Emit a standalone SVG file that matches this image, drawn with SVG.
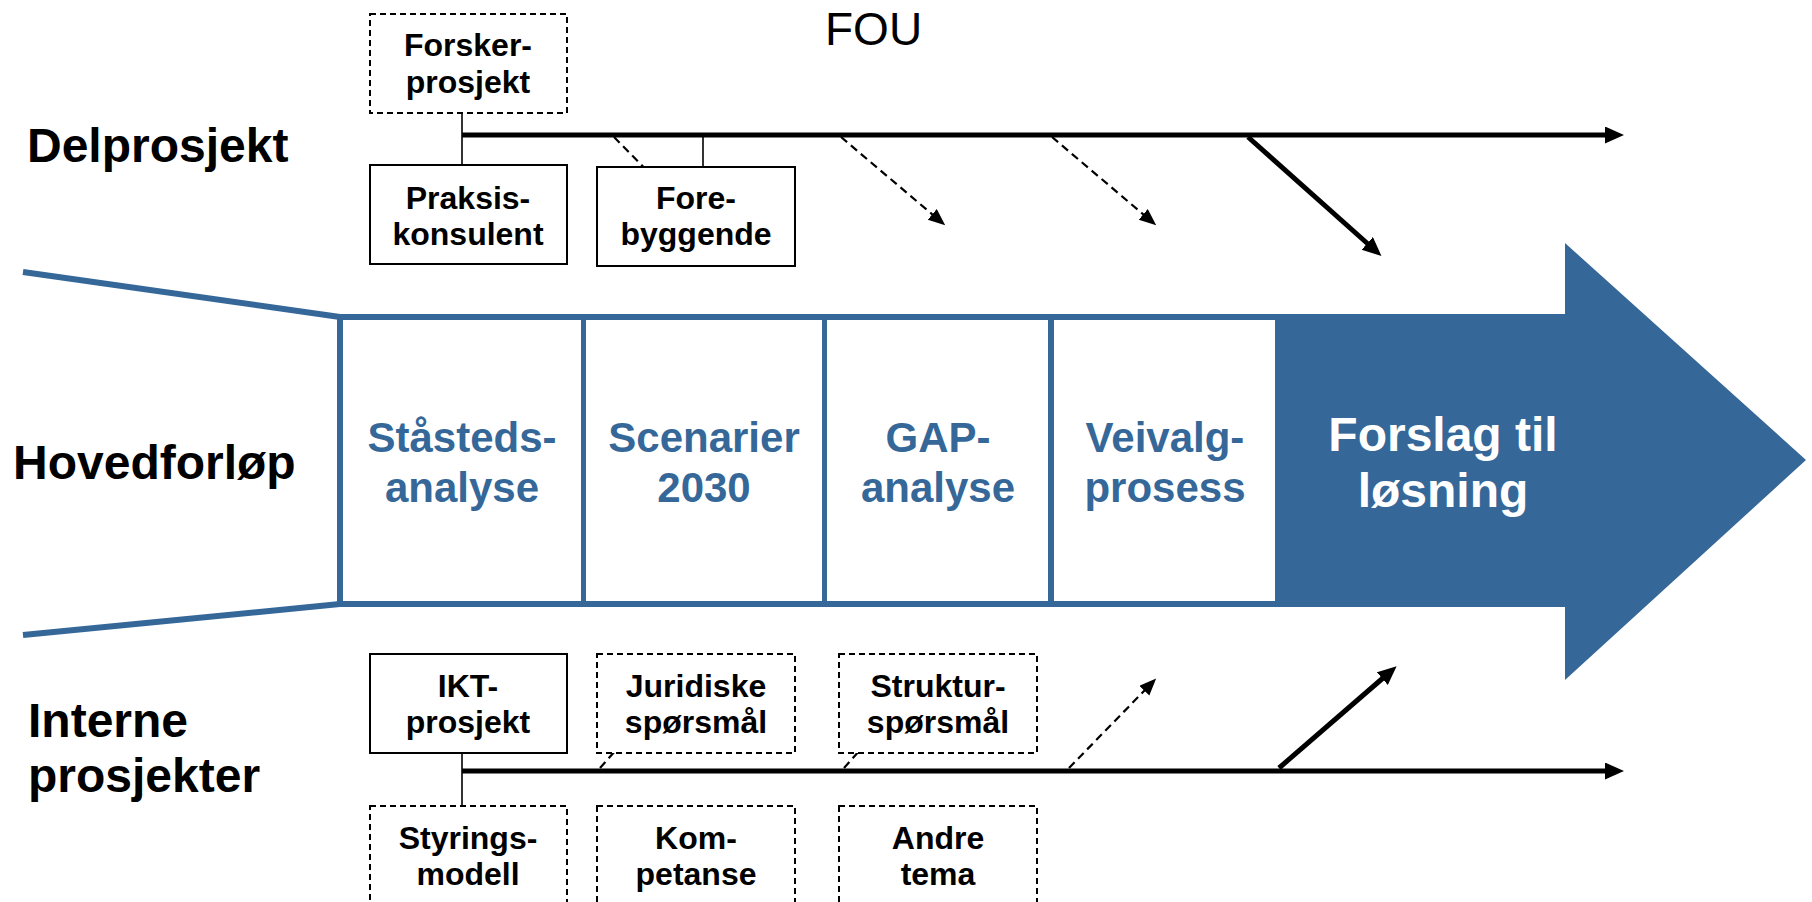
<svg xmlns="http://www.w3.org/2000/svg" width="1812" height="902" viewBox="0 0 1812 902">
<defs>
<style>
.lbl{font-family:"Liberation Sans",Arial,sans-serif;font-weight:bold;font-size:48px;fill:#000}
.bt{font-family:"Liberation Sans",Arial,sans-serif;font-weight:bold;font-size:32px;fill:#000;text-anchor:middle}
.ph{font-family:"Liberation Sans",Arial,sans-serif;font-weight:bold;font-size:42px;fill:#356899;text-anchor:middle}
.ph5{font-family:"Liberation Sans",Arial,sans-serif;font-weight:bold;font-size:48px;fill:#fff;text-anchor:middle}
.box{fill:#fff;stroke:#000;stroke-width:2}
.dbox{fill:#fff;stroke:#000;stroke-width:2;stroke-dasharray:6 4}
.axis{stroke:#000;stroke-width:5;fill:none}
.thin{stroke:#000;stroke-width:1.6;fill:none}
.dash{stroke:#000;stroke-width:2.2;fill:none;stroke-dasharray:8 5}
.sol{stroke:#000;stroke-width:5;fill:none}
</style>
<marker id="ah" markerUnits="userSpaceOnUse" markerWidth="20" markerHeight="18" refX="1" refY="8.5" orient="auto">
<path d="M0,0 L19,8.5 L0,17 z" fill="#000"/>
</marker>
<marker id="ahs" markerUnits="userSpaceOnUse" markerWidth="18" markerHeight="16" refX="1" refY="7" orient="auto">
<path d="M0,0 L17,7 L0,14 z" fill="#000"/>
</marker>
</defs>
<rect width="1812" height="902" fill="#fff"/>

<g id="labels">
<text class="lbl" x="27" y="162">Delprosjekt</text>
<text class="lbl" x="13" y="479">Hovedforløp</text>
<text class="lbl" x="28" y="737">Interne</text>
<text class="lbl" x="28" y="792">prosjekter</text>
<text x="825" y="45" font-family="Liberation Sans, Arial, sans-serif" font-size="46" fill="#000">FOU</text>
</g>

<g id="main-arrow">
<polygon points="337,314 1565,314 1565,243 1806,460 1565,680 1565,607 337,607" fill="#356899"/>
<line x1="23" y1="272" x2="340" y2="317" stroke="#356899" stroke-width="6"/>
<line x1="23" y1="635" x2="340" y2="604" stroke="#356899" stroke-width="6"/>
</g>
<g id="phase1"><rect x="343" y="320" width="238" height="281" fill="#fff"/>
<text class="ph" x="462" y="452">Ståsteds-</text><text class="ph" x="462" y="502">analyse</text></g>
<g id="phase2"><rect x="586" y="320" width="236" height="281" fill="#fff"/>
<text class="ph" x="704" y="452">Scenarier</text><text class="ph" x="704" y="502">2030</text></g>
<g id="phase3"><rect x="827" y="320" width="221" height="281" fill="#fff"/>
<text class="ph" x="938" y="452">GAP-</text><text class="ph" x="938" y="502">analyse</text></g>
<g id="phase4"><rect x="1054" y="320" width="221" height="281" fill="#fff"/>
<text class="ph" x="1165" y="452">Veivalg-</text><text class="ph" x="1165" y="502">prosess</text></g>
<g id="phase5">
<text class="ph5" x="1443" y="451">Forslag til</text>
<text class="ph5" x="1443" y="507">løsning</text></g>

<g id="connectors">
<line class="axis" x1="462" y1="135" x2="1606" y2="135" marker-end="url(#ah)"/>
<line class="thin" x1="462" y1="113" x2="462" y2="165"/>
<line class="thin" x1="703" y1="135" x2="703" y2="167"/>
<line class="dash" x1="614" y1="137" x2="660" y2="184"/>
<line class="dash" x1="841" y1="137" x2="933" y2="215" marker-end="url(#ahs)"/>
<line class="dash" x1="1052" y1="137" x2="1144" y2="215" marker-end="url(#ahs)"/>
<line class="sol" x1="1248" y1="137" x2="1368" y2="244" marker-end="url(#ah)"/>

<line class="axis" x1="462" y1="771" x2="1606" y2="771" marker-end="url(#ah)"/>
<line class="thin" x1="462" y1="753" x2="462" y2="806"/>
<line class="dash" x1="600" y1="768" x2="625" y2="740"/>
<line class="dash" x1="844" y1="768" x2="869" y2="740"/>
<line class="dash" x1="1069" y1="768" x2="1145" y2="690" marker-end="url(#ahs)"/>
<line class="sol" x1="1279" y1="768" x2="1383" y2="678" marker-end="url(#ah)"/>
</g>

<g id="forsker"><rect class="dbox" x="370" y="14" width="197" height="99"/>
<text class="bt" x="468" y="56">Forsker-</text><text class="bt" x="468" y="93">prosjekt</text></g>
<g id="praksis"><rect class="box" x="370" y="165" width="197" height="99"/>
<text class="bt" x="468" y="209">Praksis-</text><text class="bt" x="468" y="245">konsulent</text></g>
<g id="forebyggende"><rect class="box" x="597" y="167" width="198" height="99"/>
<text class="bt" x="696" y="209">Fore-</text><text class="bt" x="696" y="245">byggende</text></g>

<g id="ikt"><rect class="box" x="370" y="654" width="197" height="99"/>
<text class="bt" x="468" y="697">IKT-</text><text class="bt" x="468" y="733">prosjekt</text></g>
<g id="juridiske"><rect class="dbox" x="597" y="654" width="198" height="99"/>
<text class="bt" x="696" y="697">Juridiske</text><text class="bt" x="696" y="733">spørsmål</text></g>
<g id="struktur"><rect class="dbox" x="839" y="654" width="198" height="99"/>
<text class="bt" x="938" y="697">Struktur-</text><text class="bt" x="938" y="733">spørsmål</text></g>
<g id="styrings"><rect class="dbox" x="370" y="806" width="197" height="110"/>
<text class="bt" x="468" y="849">Styrings-</text><text class="bt" x="468" y="885">modell</text></g>
<g id="kompetanse"><rect class="dbox" x="597" y="806" width="198" height="110"/>
<text class="bt" x="696" y="849">Kom-</text><text class="bt" x="696" y="885">petanse</text></g>
<g id="andre"><rect class="dbox" x="839" y="806" width="198" height="110"/>
<text class="bt" x="938" y="849">Andre</text><text class="bt" x="938" y="885">tema</text></g>
</svg>
